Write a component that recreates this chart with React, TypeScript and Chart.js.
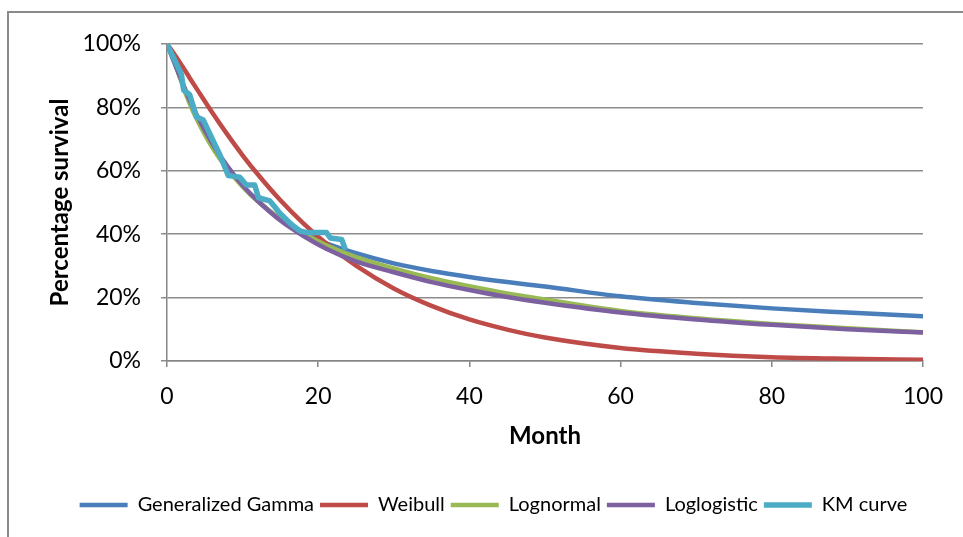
import React, { useEffect, useRef } from "react";
import { Chart, registerables } from "chart.js";

Chart.register(...registerables);

const fitMonths = [0, 1, 2, 3, 4, 6, 8, 10, 12, 15, 18, 21, 25, 30, 35, 40, 45, 50, 60, 70, 80, 90, 100];
const genGamma = [100, 94, 88, 82, 77, 68.5, 61.2, 55.3, 50.5, 44.8, 40.5, 37.2, 34.0, 30.8, 28.4, 26.5, 24.9, 23.5, 20.4, 18.3, 16.6, 15.3, 14.1];
const weibull = [100, 96.7, 93.1, 89.3, 85.6, 78.3, 71.4, 64.9, 58.9, 50.7, 43.5, 37.2, 30.1, 22.9, 17.4, 13.1, 9.9, 7.4, 4.1, 2.3, 1.2, 0.7, 0.4];
const lognormal = [100, 94.3, 87.4, 81.2, 76.0, 67.3, 60.5, 55.0, 50.4, 44.8, 40.3, 36.6, 32.8, 29.2, 26.1, 23.6, 21.3, 19.4, 15.8, 13.5, 11.7, 10.3, 9.1];
const loglogistic = [100, 94.0, 88.0, 82.4, 77.3, 68.6, 61.4, 55.4, 50.5, 44.3, 39.5, 35.5, 31.4, 28.0, 24.9, 22.4, 20.2, 18.4, 15.3, 13.1, 11.4, 10.0, 9.0];

const kmMonths = [0, 1.9, 2.2, 3.0, 3.9, 4.8, 5.7, 7.0, 8.1, 9.6, 10.5, 11.6, 12.1, 13.6, 14.3, 14.9, 16.5, 17.6, 18.5, 21.1, 21.6, 23.1, 23.5];
const kmSurvival = [100, 90.5, 85.5, 84, 77, 76, 71.5, 65, 58.5, 58, 55.5, 55.5, 51.5, 50.5, 48.5, 46.7, 43, 41, 40.5, 40.5, 38.8, 38.3, 35.8];

const seriesNames = ["Generalized Gamma", "Weibull", "Lognormal", "Loglogistic", "KM curve"];
const seriesColors = ["#4A7EBB", "#BE4B48", "#98B954", "#7D60A0", "#4BACC6"];

const xTicks = [0, 20, 40, 60, 80, 100];
const yTicks = [0, 20, 40, 60, 80, 100];

const toPoints = (xs: number[], ys: number[]) => xs.map((x, i) => ({ x, y: ys[i] }));

export default function App() {
  const ref = useRef<HTMLCanvasElement | null>(null);

  useEffect(() => {
    if (!ref.current) return;
    const fits = [genGamma, weibull, lognormal, loglogistic];
    const datasets: any[] = fits.map((vals, i) => ({
      label: seriesNames[i],
      data: toPoints(fitMonths, vals),
      borderColor: seriesColors[i],
      backgroundColor: seriesColors[i],
      borderWidth: 4.5,
      borderCapStyle: "round",
      pointRadius: 0,
      cubicInterpolationMode: "monotone",
      order: 5 - i,
    }));
    datasets.push({
      label: seriesNames[4],
      data: toPoints(kmMonths, kmSurvival),
      borderColor: seriesColors[4],
      backgroundColor: seriesColors[4],
      borderWidth: 5.5,
      borderCapStyle: "round",
      borderJoinStyle: "round",
      pointRadius: 0,
      tension: 0,
      order: 0,
    });

    const chart = new Chart(ref.current, {
      type: "line",
      data: { datasets },
      options: {
        animation: false,
        responsive: false,
        devicePixelRatio: 1,
        layout: { padding: { left: 64, top: 44, right: 40, bottom: 12 } },
        plugins: {
          tooltip: { enabled: false },
          legend: {
            position: "bottom",
            labels: {
              usePointStyle: true,
              pointStyle: "line",
              pointStyleWidth: 48,
              boxHeight: 4,
              padding: 6,
              color: "#000",
              font: { family: "Lato", size: 20 },
              sort: (a: any, b: any) => a.datasetIndex - b.datasetIndex,
            },
          },
        },
        scales: {
          x: {
            type: "linear",
            min: 0,
            max: 100,
            afterBuildTicks: (s: any) => {
              s.ticks = xTicks.map((v) => ({ value: v }));
            },
            afterFit: (s: any) => {
              s.height = 128;
            },
            grid: { drawOnChartArea: false, drawTicks: true, tickLength: 6, color: "#868686", lineWidth: 1.5 },
            border: { display: true, color: "#868686", width: 1.5 },
            ticks: { color: "#000", font: { family: "Lato", size: 23 }, padding: 16, maxRotation: 0 },
            title: {
              display: true,
              text: "Month",
              color: "#000",
              font: { family: "Lato", size: 24, weight: "bold" },
              padding: { top: 0, bottom: 38.6 },
            },
          },
          y: {
            type: "linear",
            min: 0,
            max: 100,
            afterBuildTicks: (s: any) => {
              s.ticks = yTicks.map((v) => ({ value: v }));
            },
            afterFit: (s: any) => {
              s.width = 103;
            },
            grid: { color: "#8c8c8c", lineWidth: 1.5, drawTicks: true, tickLength: 6 },
            border: { display: true, color: "#868686", width: 1.5 },
            ticks: {
              color: "#000",
              font: { family: "Lato", size: 23 },
              padding: 20,
              callback: (v: any) => `${v}%`,
            },
            title: {
              display: true,
              text: "Percentage survival",
              color: "#000",
              font: { family: "Lato", size: 24, weight: "bold" },
              padding: { top: -18.4, bottom: 0 },
            },
          },
        },
      },
    });
    return () => chart.destroy();
  }, []);

  return (
    <div style={{ position: "absolute", left: 0, top: 0, width: 963, height: 537, background: "#fff", overflow: "hidden" }}>
      <canvas ref={ref} width={963} height={537} style={{ position: "absolute", left: 0, top: 0, width: 963, height: 537 }} />
      <div
        style={{
          position: "absolute",
          left: 7,
          top: 11,
          width: 1000,
          height: 600,
          borderTop: "2px solid #8a8a8a",
          borderLeft: "2px solid #8a8a8a",
          pointerEvents: "none",
        }}
      />
    </div>
  );
}
